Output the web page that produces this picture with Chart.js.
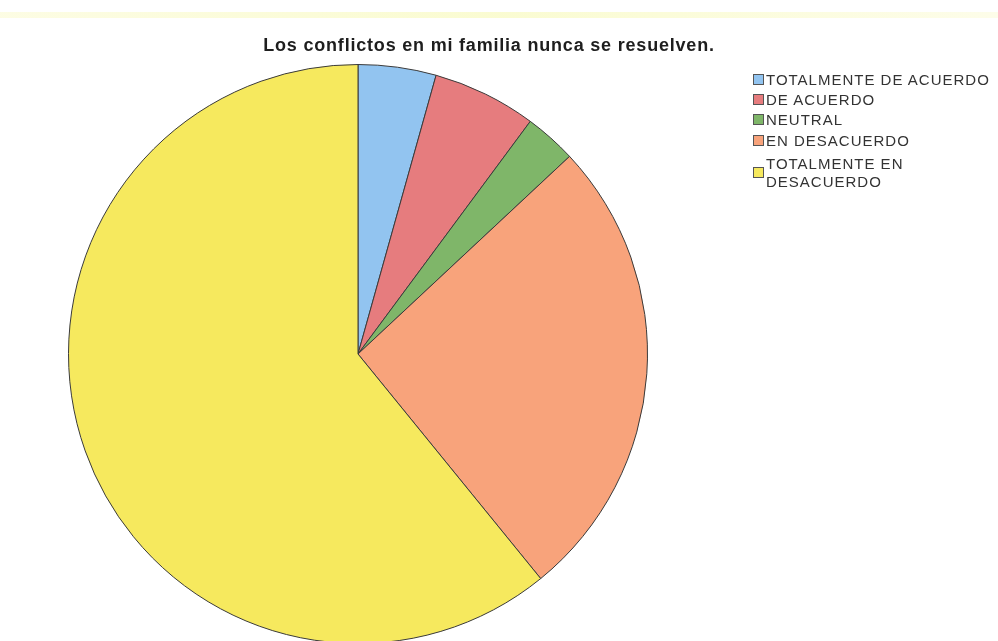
<!DOCTYPE html>
<html>
<head>
<meta charset="utf-8">
<script src="https://cdn.jsdelivr.net/npm/chart.js@4"></script>
<style>
html,body{margin:0;padding:0;background:#fff;overflow:hidden;width:998px;height:641px;}
#wrap{position:absolute;left:0;top:0;width:998px;height:660px;}
#band{position:absolute;left:0;top:12px;width:998px;height:6px;background:linear-gradient(to right,rgba(250,250,200,0.5),rgba(248,250,190,0.7) 50%,rgba(250,250,200,0.4));}
#title{position:absolute;left:0;top:35px;width:978px;text-align:center;font-family:"Liberation Sans",Arial,sans-serif;font-weight:bold;font-size:18px;line-height:20px;letter-spacing:0.8px;color:#1e1e1e;white-space:nowrap;}
.row{position:absolute;left:753px;font-family:"Liberation Sans",Arial,sans-serif;font-size:15px;letter-spacing:1px;color:#333;line-height:18px;white-space:nowrap;}
.sw{position:absolute;left:0;width:9px;height:9px;border:1px solid #555;}
.tx{position:absolute;left:13px;top:0;}
</style>
</head>
<body>
<div id="band"></div>
<div id="wrap"><canvas id="c" width="998" height="660"></canvas></div>
<div id="title"></div>
<div id="legend"></div>
<script>
const chartTitle = "Los conflictos en mi familia nunca se resuelven.";
const categories = ["TOTALMENTE DE ACUERDO","DE ACUERDO","NEUTRAL","EN DESACUERDO","TOTALMENTE EN DESACUERDO"];
const legendLines = [["TOTALMENTE DE ACUERDO"],["DE ACUERDO"],["NEUTRAL"],["EN DESACUERDO"],["TOTALMENTE EN","DESACUERDO"]];
const values = [3, 4, 2, 18, 42];
const colors = ["#92C4F0","#E67C7E","#7FB669","#F8A37B","#F6E95E"];

// legend layout (row top in px, swatch offset)
const legendRowTops = [71, 91, 111, 132, 155];
const legendSwatchOffsets = [3, 3, 3, 3, 12];

document.getElementById('title').textContent = chartTitle;
const leg = document.getElementById('legend');
categories.forEach((c,i)=>{
  const r = document.createElement('div'); r.className='row'; r.style.top = legendRowTops[i]+'px';
  const s = document.createElement('div'); s.className='sw'; s.style.background=colors[i]; s.style.top = legendSwatchOffsets[i]+'px';
  const t = document.createElement('div'); t.className='tx'; t.innerHTML = legendLines[i].join('<br>');
  r.appendChild(s); r.appendChild(t); leg.appendChild(r);
});

new Chart(document.getElementById('c'), {
  type: 'pie',
  data: {
    labels: categories,
    datasets: [{
      data: values,
      backgroundColor: colors,
      borderColor: '#3a3a3a',
      borderWidth: 1
    }]
  },
  options: {
    responsive: false,
    animation: false,
    layout: { padding: { left: 68, top: 64, right: 350, bottom: 16 } },
    plugins: { legend: { display: false }, title: { display: false }, tooltip: { enabled: false } }
  }
});
</script>
</body>
</html>
